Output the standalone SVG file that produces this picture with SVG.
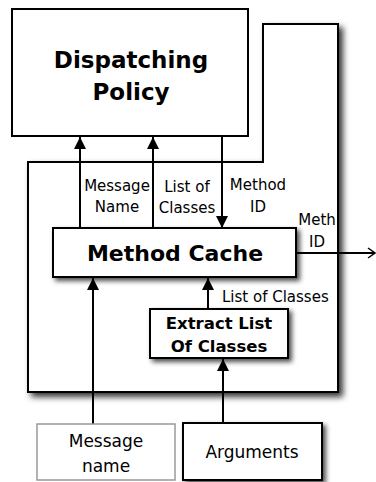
<svg xmlns="http://www.w3.org/2000/svg" width="376" height="482" viewBox="0 0 376 482">
<style>
.box{fill:#fff;stroke:#000;stroke-width:2}
.bold{font-family:"DejaVu Sans",sans-serif;font-weight:bold;text-anchor:middle;fill:#000}
.lbl{font-family:"DejaVu Sans",sans-serif;font-size:15px;text-anchor:middle;fill:#000}
.big{font-family:"DejaVu Sans",sans-serif;font-size:17px;text-anchor:middle;fill:#000}
.conn{fill:none;stroke:#000;stroke-width:2}
</style>
<defs>
<filter id="sh" x="-20%" y="-20%" width="140%" height="150%">
<feDropShadow dx="3" dy="3" stdDeviation="2.5" flood-color="#000" flood-opacity="0.7"/>
</filter>
<filter id="shc" x="-10%" y="-10%" width="120%" height="120%">
<feDropShadow dx="4" dy="4" stdDeviation="3" flood-color="#000" flood-opacity="0.8"/>
</filter>
<marker id="ah" markerUnits="userSpaceOnUse" markerWidth="13" markerHeight="12" refX="12" refY="6" orient="auto">
<path d="M0,0 L12,6 L0,12 z" fill="#000"/>
</marker>
<marker id="oh" markerUnits="userSpaceOnUse" markerWidth="10" markerHeight="12" refX="8" refY="6" orient="auto">
<path d="M1,1 L8,6 L1,11" fill="none" stroke="#000" stroke-width="1.5"/>
</marker>
</defs>
<rect width="376" height="482" fill="#fff"/>
<g id="container">
<path class="box" filter="url(#shc)" d="M263,24 L338,24 L338,392 L28,392 L28,162 L263,162 Z"/>
</g>
<g id="dispatching-policy">
<rect class="box" x="12" y="9" width="236" height="127"/>
<text class="bold" font-size="23" x="131" y="68">Dispatching</text>
<text class="bold" font-size="23" x="131" y="100">Policy</text>
</g>
<g id="connectors">
<path class="conn" d="M80,228 L80,137" marker-end="url(#ah)"/>
<path class="conn" d="M153,228 L153,137" marker-end="url(#ah)"/>
<path class="conn" d="M222,136 L222,228" marker-end="url(#ah)"/>
<path class="conn" d="M93,424 L93,278" marker-end="url(#ah)"/>
<path class="conn" d="M208,309 L208,278" marker-end="url(#ah)"/>
<path class="conn" d="M223,423 L223,359" marker-end="url(#ah)"/>
<path class="conn" d="M296,253 L375,253" marker-end="url(#oh)"/>
<text class="lbl" font-size="14" x="117" y="191">Message</text>
<text class="lbl" font-size="14" x="117" y="212">Name</text>
<text class="lbl" x="187" y="192">List of</text>
<text class="lbl" x="187" y="213">Classes</text>
<text class="lbl" x="258" y="190">Method</text>
<text class="lbl" x="258" y="212">ID</text>
<text class="lbl" x="317" y="225">Meth</text>
<text class="lbl" x="317" y="247">ID</text>
<text class="lbl" x="222" y="302" style="text-anchor:start">List of Classes</text>
</g>
<g id="method-cache">
<rect class="box" filter="url(#sh)" x="53" y="228" width="243" height="49"/>
<text class="bold" font-size="22" x="175" y="261">Method Cache</text>
</g>
<g id="extract-list">
<rect class="box" filter="url(#sh)" x="150" y="309" width="138" height="49"/>
<text class="bold" font-size="16.5" x="219" y="329">Extract List</text>
<text class="bold" font-size="16.5" x="219" y="352">Of Classes</text>
</g>
<g id="message-name">
<rect x="37" y="424" width="138" height="56" fill="#fff" stroke="#999" stroke-width="1.5"/>
<text class="big" x="106" y="447">Message</text>
<text class="big" x="106" y="472">name</text>
</g>
<g id="arguments">
<rect class="box" filter="url(#sh)" x="183" y="423" width="139" height="57"/>
<text class="big" x="252" y="458">Arguments</text>
</g>
</svg>
